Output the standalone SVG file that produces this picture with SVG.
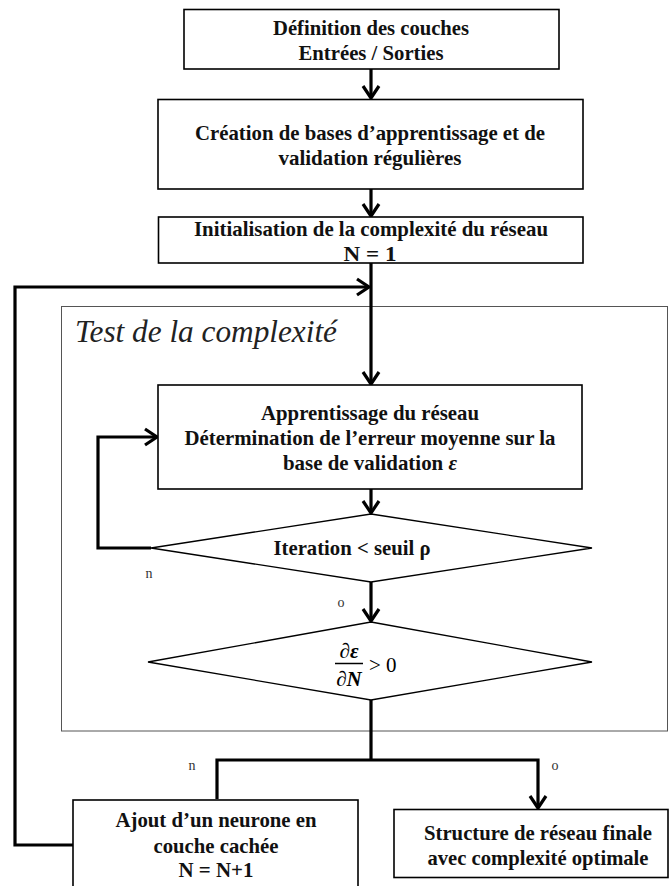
<svg xmlns="http://www.w3.org/2000/svg" width="669" height="886" viewBox="0 0 669 886">
<style>
.box{fill:#fff;stroke:#000;stroke-width:1.6}
.dia{fill:#fff;stroke:#000;stroke-width:1.3}
.frame{fill:none;stroke:#555;stroke-width:1}
.t{font-family:"Liberation Serif","Times New Roman",serif;font-weight:bold;font-size:21px;fill:#111;text-anchor:middle;dominant-baseline:central}
.lbl{font-family:"Liberation Serif","Times New Roman",serif;font-size:14px;fill:#333;text-anchor:middle;dominant-baseline:central}
.m{font-family:"Liberation Serif","Times New Roman",serif;font-size:21px;fill:#000}
.c{fill:none;stroke:#000;stroke-width:3.2}
</style>
<defs>
<marker id="ah" markerUnits="userSpaceOnUse" viewBox="-16 -10 20 20" markerWidth="20" markerHeight="20" refX="0" refY="0" orient="auto">
<path d="M-12,-8 L0,0 L-12,8" fill="none" stroke="#000" stroke-width="3.2"/>
</marker>
</defs>
<rect id="frame" class="frame" x="61.5" y="306.5" width="606" height="424.5"/>
<text x="75" y="342" font-family="Liberation Serif,Times New Roman,serif" font-style="italic" font-size="32" fill="#222" textLength="262" lengthAdjust="spacingAndGlyphs">Test de la complexité</text>
<g id="connectors">
<line class="c" x1="371" y1="69" x2="371" y2="98" marker-end="url(#ah)"/>
<line class="c" x1="371" y1="189" x2="371" y2="216" marker-end="url(#ah)"/>
<line class="c" x1="371" y1="263" x2="371" y2="384" marker-end="url(#ah)"/>
<polyline class="c" points="73,845 15,845 15,287 369,287" marker-end="url(#ah)"/>
<line class="c" x1="371" y1="489" x2="371" y2="513" marker-end="url(#ah)"/>
<polyline class="c" points="151,548 98,548 98,437 157,437" marker-end="url(#ah)"/>
<line class="c" x1="371" y1="582" x2="371" y2="621" marker-end="url(#ah)"/>
<line class="c" x1="371" y1="700" x2="371" y2="760"/>
<polyline class="c" points="217,799 217,760 538,760 538,808" marker-end="url(#ah)"/>
<text class="lbl" x="149" y="573">n</text>
<text class="lbl" x="341" y="602">o</text>
<text class="lbl" x="192" y="765">n</text>
<text class="lbl" x="555" y="765">o</text>
</g>
<g id="n1">
<rect class="box" x="184" y="9.5" width="375" height="59.5"/>
<text class="t" x="371" y="28" textLength="196" lengthAdjust="spacingAndGlyphs">Définition des couches</text>
<text class="t" x="371" y="53" textLength="145" lengthAdjust="spacingAndGlyphs">Entrées / Sorties</text>
</g>
<g id="n2">
<rect class="box" x="158" y="99.5" width="425" height="89.5"/>
<text class="t" x="370" y="133" textLength="350" lengthAdjust="spacingAndGlyphs">Création de bases d’apprentissage et de</text>
<text class="t" x="370" y="158" textLength="183" lengthAdjust="spacingAndGlyphs">validation régulières</text>
</g>
<g id="n3">
<rect class="box" x="158.5" y="217" width="424.5" height="46"/>
<text class="t" x="371" y="229" textLength="354" lengthAdjust="spacingAndGlyphs">Initialisation de la complexité du réseau</text>
<text class="t" x="370" y="254" textLength="53" lengthAdjust="spacingAndGlyphs">N  = 1</text>
</g>
<g id="n4">
<rect class="box" x="158" y="385" width="424" height="104"/>
<text class="t" x="370" y="413" textLength="218" lengthAdjust="spacingAndGlyphs">Apprentissage du réseau</text>
<text class="t" x="370" y="438" textLength="371" lengthAdjust="spacingAndGlyphs">Détermination de l’erreur moyenne sur la</text>
<text class="t" x="370" y="463" textLength="174" lengthAdjust="spacingAndGlyphs">base de validation <tspan font-style="italic">ε</tspan></text>
</g>
<g id="d1">
<polygon class="dia" points="371,514 592,548 371,582 151,548"/>
<text class="t" x="352" y="548" textLength="157" lengthAdjust="spacingAndGlyphs">Iteration &lt; seuil ρ</text>
</g>
<g id="d2">
<polygon class="dia" points="371,622 592,662 371,700 148,662"/>
<text class="m" x="349" y="658" text-anchor="middle" font-style="italic" font-weight="bold">∂ε</text>
<line x1="335" y1="663.5" x2="363" y2="663.5" stroke="#000" stroke-width="1.5"/>
<text class="m" x="349" y="686" text-anchor="middle" font-style="italic" font-weight="bold">∂N</text>
<text class="m" x="369" y="672" font-size="23">&gt; 0</text>
</g>
<g id="n5">
<rect class="box" x="73" y="800" width="285" height="95"/>
<text class="t" x="216" y="820" textLength="201" lengthAdjust="spacingAndGlyphs">Ajout d’un neurone en</text>
<text class="t" x="216" y="846" textLength="125" lengthAdjust="spacingAndGlyphs">couche cachée</text>
<text class="t" x="216" y="870" textLength="75" lengthAdjust="spacingAndGlyphs">N = N+1</text>
</g>
<g id="n6">
<rect class="box" x="394" y="809.5" width="274" height="68"/>
<text class="t" x="538" y="833" textLength="228" lengthAdjust="spacingAndGlyphs">Structure de réseau finale</text>
<text class="t" x="538" y="858" textLength="221" lengthAdjust="spacingAndGlyphs">avec complexité optimale</text>
</g>
</svg>
